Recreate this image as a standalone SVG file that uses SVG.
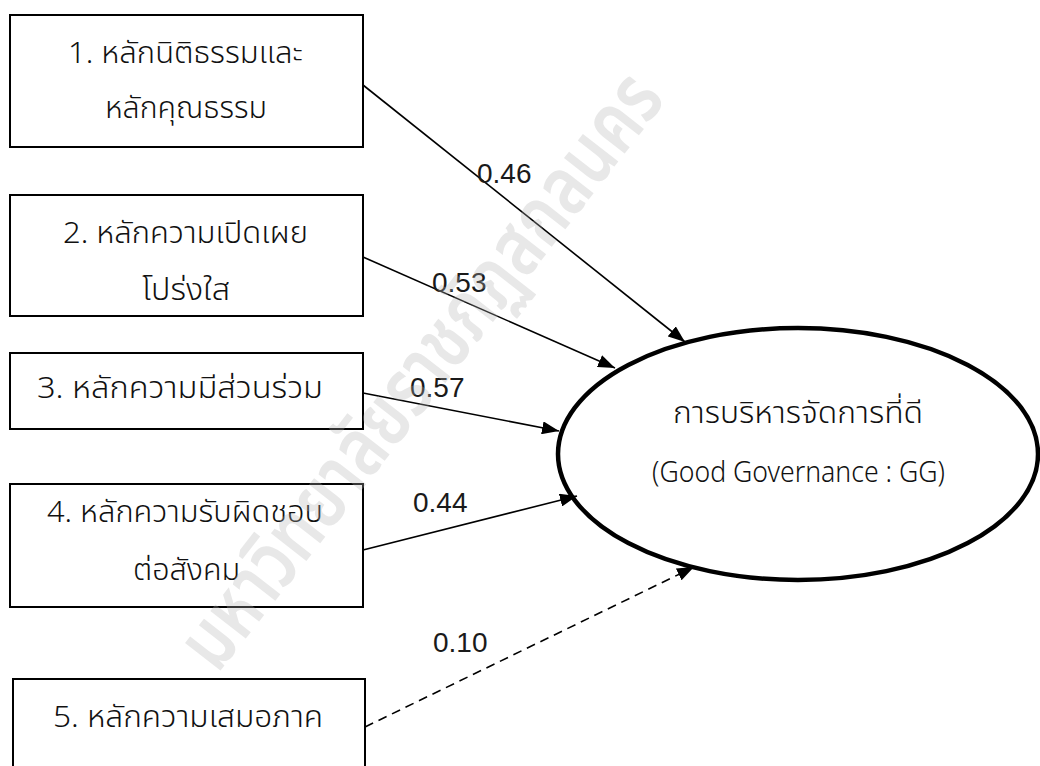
<svg xmlns="http://www.w3.org/2000/svg" width="1040" height="766" viewBox="0 0 1040 766">
<style>
.box{fill:#fff;stroke:#000;stroke-width:2}
.t{font-family:"Noto Sans Thai","Noto Sans",sans-serif;font-size:30px;font-weight:300;fill:#111;text-anchor:middle}
.lbl{font-family:"Liberation Sans",sans-serif;font-size:28px;fill:#1a1a1a}
.wm{font-family:"Noto Sans Thai","Noto Sans",sans-serif;font-size:82px;font-weight:600;fill:#b4b4b4;opacity:0.3;text-anchor:middle}
.ln{stroke:#000;stroke-width:1.6;fill:none}
</style>
<defs>
<marker id="ah" viewBox="0 0 10 10" refX="10" refY="5" markerWidth="17" markerHeight="13" markerUnits="userSpaceOnUse" orient="auto" preserveAspectRatio="none">
<path d="M0,0 L10,5 L0,10 z" fill="#000"/>
</marker>
</defs>
<rect width="1040" height="766" fill="#fff"/>
<g id="connectors">
<line class="ln" x1="363" y1="85" x2="685" y2="342" marker-end="url(#ah)"/>
<line class="ln" x1="363" y1="257" x2="615" y2="368" marker-end="url(#ah)"/>
<line class="ln" x1="363" y1="393" x2="559" y2="431" marker-end="url(#ah)"/>
<line class="ln" x1="363" y1="550" x2="577" y2="496" marker-end="url(#ah)"/>
<line class="ln" x1="365" y1="727" x2="694" y2="567" stroke-dasharray="9,6" marker-end="url(#ah)"/>
<text class="lbl" x="477" y="183">0.46</text>
<text class="lbl" x="432" y="292">0.53</text>
<text class="lbl" x="410" y="397">0.57</text>
<text class="lbl" x="413" y="512">0.44</text>
<text class="lbl" x="433" y="652">0.10</text>
</g>
<g id="n1">
<rect class="box" x="10" y="15" width="353" height="132"/>
<text class="t" x="185.5" y="63" textLength="235" lengthAdjust="spacingAndGlyphs">1. หลักนิติธรรมและ</text>
<text class="t" x="186" y="118" textLength="162" lengthAdjust="spacingAndGlyphs">หลักคุณธรรม</text>
</g>
<g id="n2">
<rect class="box" x="10" y="195" width="353" height="121"/>
<text class="t" x="185.5" y="243" textLength="245" lengthAdjust="spacingAndGlyphs">2. หลักความเปิดเผย</text>
<text class="t" x="186" y="300" textLength="88" lengthAdjust="spacingAndGlyphs">โปร่งใส</text>
</g>
<g id="n3">
<rect class="box" x="10" y="353" width="353" height="76"/>
<text class="t" x="180" y="398" textLength="286" lengthAdjust="spacingAndGlyphs">3. หลักความมีส่วนร่วม</text>
</g>
<g id="n4">
<rect class="box" x="10" y="484" width="353" height="123"/>
<text class="t" x="185" y="522" textLength="276" lengthAdjust="spacingAndGlyphs">4. หลักความรับผิดชอบ</text>
<text class="t" x="186.5" y="580" textLength="107" lengthAdjust="spacingAndGlyphs">ต่อสังคม</text>
</g>
<g id="n5">
<rect class="box" x="13" y="679" width="352" height="110"/>
<text class="t" x="188" y="727" textLength="270" lengthAdjust="spacingAndGlyphs">5. หลักความเสมอภาค</text>
</g>
<g id="gg">
<ellipse cx="798" cy="454" rx="240" ry="126" fill="none" stroke="#000" stroke-width="4.5"/>
<text class="t" x="798" y="423" textLength="250" lengthAdjust="spacingAndGlyphs">การบริหารจัดการที่ดี</text>
<text class="t" x="798.5" y="482" textLength="293" lengthAdjust="spacingAndGlyphs">(Good Governance : GG)</text>
</g>
<g id="watermark">
<text class="wm" x="420" y="398" transform="rotate(-52 420 370)" textLength="730" lengthAdjust="spacingAndGlyphs">มหาวิทยาลัยราชภัฏสกลนคร</text>
</g>
</svg>
